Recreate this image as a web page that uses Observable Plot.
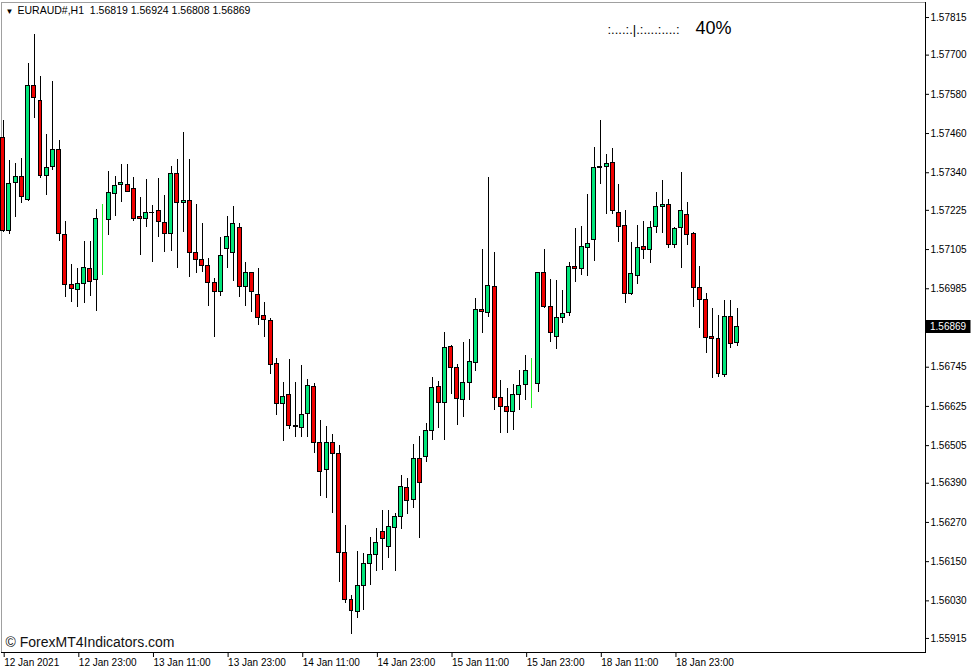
<!DOCTYPE html>
<html><head><meta charset="utf-8">
<script src="https://cdn.jsdelivr.net/npm/d3@7"></script>
<script src="https://cdn.jsdelivr.net/npm/@observablehq/plot@0.6"></script>
<style>
html,body{margin:0;padding:0;background:#fff;}
svg text{white-space:pre;}
</style></head><body><div id="chart"></div>
<script>
const symbol = "EURAUD#";
const timeframe = "H1";
const open = [1.57445,1.57163,1.57310,1.57328,1.57258,1.57604,1.57561,1.57331,1.57359,1.57411,
1.57151,1.56998,1.56980,1.57001,1.57044,1.57013,1.57197,1.57194,1.57276,1.57304,
1.57304,1.57289,1.57206,1.57197,1.57218,1.57224,1.57185,1.57154,1.57335,1.57246,
1.57255,1.57096,1.57074,1.57056,1.57004,1.56976,1.57108,1.57093,1.57172,1.56989,
1.57032,1.56967,1.56903,1.56885,1.56756,1.56631,1.56661,1.56563,1.56560,1.56603,
1.56683,1.56514,1.56429,1.56514,1.56478,1.56175,1.56034,1.55997,1.56077,1.56144,
1.56169,1.56242,1.56196,1.56254,1.56288,1.56374,1.56340,1.56465,1.56469,1.56551,
1.56683,1.56637,1.56808,1.56744,1.56646,1.56698,1.56759,1.56921,1.56912,1.56989,
1.56652,1.56622,1.56609,1.56661,1.56692,1.56701,1.56695,1.57032,1.56928,1.56836,
1.56897,1.56912,1.57053,1.57044,1.57111,1.57133,1.57356,1.57359,1.57371,1.57218,
1.57178,1.56970,1.57025,1.57114,1.57105,1.57175,1.57234,1.57240,1.57120,1.57172,
1.57212,1.57154,1.56986,1.56952,1.56836,1.56830,1.56720,1.56900,1.56819];
const high = [1.57500,1.57377,1.57368,1.57383,1.57674,1.57763,1.57634,1.57457,1.57619,1.57439,
1.57191,1.57059,1.57047,1.57129,1.57129,1.57227,1.57243,1.57344,1.57328,1.57365,
1.57365,1.57325,1.57264,1.57319,1.57240,1.57322,1.57270,1.57359,1.57380,1.57463,
1.57380,1.57243,1.57185,1.57077,1.57016,1.57142,1.57206,1.57237,1.57185,1.57065,
1.57035,1.57047,1.56943,1.56894,1.56771,1.56698,1.56768,1.56698,1.56750,1.56707,
1.56695,1.56582,1.56563,1.56539,1.56505,1.56260,1.56046,1.56181,1.56175,1.56224,
1.56251,1.56306,1.56306,1.56297,1.56413,1.56404,1.56508,1.56533,1.56573,1.56713,
1.56701,1.56851,1.56810,1.56753,1.56820,1.56830,1.56955,1.57105,1.57325,1.57096,
1.56704,1.56680,1.56692,1.56735,1.56781,1.56771,1.57035,1.57105,1.57013,1.57010,
1.56980,1.57065,1.57169,1.57175,1.57273,1.57417,1.57500,1.57396,1.57414,1.57304,
1.57224,1.57126,1.57178,1.57191,1.57191,1.57279,1.57316,1.57258,1.57172,1.57341,
1.57249,1.57157,1.57053,1.56970,1.56924,1.56903,1.56949,1.56949,1.56924];
const low = [1.57157,1.57151,1.57203,1.57246,1.57252,1.57506,1.57322,1.57270,1.57347,1.57129,
1.56958,1.56943,1.56928,1.56940,1.56961,1.56915,1.57025,1.57148,1.57206,1.57249,
1.57279,1.57191,1.57087,1.57172,1.57065,1.57142,1.57096,1.57099,1.57047,1.57157,
1.57019,1.57032,1.57035,1.56931,1.56836,1.56961,1.57047,1.57007,1.56958,1.56931,
1.56912,1.56872,1.56836,1.56723,1.56597,1.56517,1.56554,1.56530,1.56530,1.56530,
1.56481,1.56349,1.56343,1.56297,1.56086,1.56022,1.55927,1.55976,1.56000,1.56077,
1.56120,1.56123,1.56159,1.56120,1.56248,1.56294,1.56312,1.56221,1.56453,1.56521,
1.56557,1.56521,1.56661,1.56566,1.56591,1.56643,1.56732,1.56848,1.56897,1.56612,
1.56542,1.56542,1.56551,1.56612,1.56643,1.56618,1.56667,1.56924,1.56820,1.56799,
1.56879,1.56900,1.57004,1.57025,1.57022,1.57068,1.57304,1.57212,1.57212,1.57126,
1.56940,1.56964,1.56998,1.57074,1.57062,1.57154,1.57154,1.57108,1.57108,1.57047,
1.57117,1.56928,1.56863,1.56787,1.56710,1.56713,1.56713,1.56802,1.56808];
const close = [1.57163,1.57307,1.57328,1.57267,1.57604,1.57570,1.57331,1.57356,1.57411,1.57154,
1.56998,1.56983,1.57001,1.57050,1.57007,1.57197,1.57197,1.57279,1.57298,1.57310,
1.57282,1.57197,1.57200,1.57218,1.57216,1.57188,1.57154,1.57335,1.57246,1.57255,
1.57093,1.57074,1.57056,1.57004,1.56976,1.57084,1.57142,1.57182,1.56989,1.57032,
1.56976,1.56897,1.56888,1.56753,1.56631,1.56655,1.56566,1.56565,1.56600,1.56686,
1.56514,1.56423,1.56514,1.56478,1.56175,1.56034,1.56000,1.56077,1.56144,1.56169,
1.56208,1.56218,1.56257,1.56288,1.56377,1.56337,1.56465,1.56392,1.56551,1.56680,
1.56637,1.56805,1.56744,1.56649,1.56698,1.56762,1.56921,1.56915,1.56995,1.56652,
1.56622,1.56609,1.56661,1.56689,1.56732,1.56701,1.57032,1.56928,1.56851,1.56897,
1.56909,1.57053,1.57044,1.57114,1.57123,1.57356,1.57359,1.57368,1.57224,1.57175,
1.56970,1.57029,1.57111,1.57105,1.57172,1.57234,1.57240,1.57120,1.57169,1.57224,
1.57151,1.56986,1.56952,1.56833,1.56830,1.56723,1.56900,1.56817,1.56869];
const limeBars = [16, 85];
const yTicks = [1.57815,1.57700,1.57580,1.57460,1.57340,1.57225,1.57105,1.56985,
                1.56745,1.56625,1.56505,1.56390,1.56270,1.56150,1.56030,1.55915];
const xTickIndex = [0,12,24,36,48,60,72,84,96,108];
const xTickLabels = ["12 Jan 2021","12 Jan 23:00","13 Jan 11:00","13 Jan 23:00","14 Jan 11:00",
                     "14 Jan 23:00","15 Jan 11:00","15 Jan 23:00","18 Jan 11:00","18 Jan 23:00"];
const indicatorDots = ":....:.|.:....:....:";
const indicatorValue = "40%";
const watermark = "\u00A9 ForexMT4Indicators.com";

const candles = open.map((o, i) => ({i, open: o, high: high[i], low: low[i], close: close[i], lime: limeBars.includes(i)}));
const upColor = "#00e57a", downColor = "#f00000", limeColor = "#22ee22";
const fmt = v => v.toFixed(5);
const last = open.length - 1;
const header = `${symbol},${timeframe}  ${fmt(open[last])} ${fmt(high[last])} ${fmt(low[last])} ${fmt(close[last])}`;

const chart = Plot.plot({
  width: 977, height: 672,
  marginTop: 2, marginRight: 52, marginBottom: 20, marginLeft: 1,
  style: {fontFamily: "'Liberation Sans', Arial, sans-serif", fontSize: "10px", color: "#000", background: "#fff", overflow: "visible"},
  x: {type: "linear", domain: [-0.27, 148.28], axis: null},
  y: {domain: [1.55872, 1.57861], axis: null},
  marks: [
    Plot.frame({stroke: "#a0a0a0"}),
    Plot.frame({anchor: "right", stroke: "#000"}),
    Plot.frame({anchor: "bottom", stroke: "#000"}),
    Plot.ruleX(candles, {x: "i", y1: "low", y2: "high", stroke: d => d.lime ? limeColor : "#000", strokeWidth: 1, shapeRendering: "crispEdges"}),
    Plot.rect(candles, {x1: d => d.i - 0.32, x2: d => d.i + 0.32, y1: "open", y2: "close",
      fill: d => d.lime ? limeColor : (d.close >= d.open ? upColor : downColor),
      stroke: d => d.lime ? limeColor : "#000", strokeWidth: 1, shapeRendering: "crispEdges"}),
    Plot.axisY(yTicks, {anchor: "right", tickSize: 3, tickPadding: 2, tickFormat: fmt, label: null, fontSize: 10}),
    Plot.axisX(xTickIndex, {anchor: "bottom", tickSize: 5, tickPadding: 1, label: null, textAnchor: "start", dx: 1,
      tickFormat: d => xTickLabels[xTickIndex.indexOf(d)], fontSize: 10}),
    Plot.text(["\u25BC"], {frameAnchor: "top-left", dx: 4, dy: 6, fontSize: 8, textAnchor: "start"}),
    Plot.text([header], {frameAnchor: "top-left", dx: 16, dy: 4, fontSize: 10.5, textAnchor: "start"}),
    Plot.text([indicatorDots], {frameAnchor: "top-left", dx: 606, dy: 22, fontSize: 13, textAnchor: "start"}),
    Plot.text([indicatorValue], {frameAnchor: "top-left", dx: 694, dy: 19, fontSize: 18, textAnchor: "start"}),
    Plot.text([watermark], {frameAnchor: "bottom-left", dx: 4, dy: -6, fontSize: 14, textAnchor: "start", lineAnchor: "bottom", fill: "#111"})
  ]
});
document.getElementById("chart").append(chart);

// current price marker on the right price scale, positioned through the chart's own y scale
const ys = chart.scale("y");
const yOf = v => ys.range[0] + (v - ys.domain[0]) / (ys.domain[1] - ys.domain[0]) * (ys.range[1] - ys.range[0]);
const xs = chart.scale("x");
const frameRight = Math.max(xs.range[0], xs.range[1]);
const py = yOf(close[last]);
const svg = d3.select(chart);
const gp = svg.append("g").attr("aria-label", "current-price");
gp.append("rect").attr("x", frameRight + 0.5).attr("y", Math.round(py) - 6).attr("width", 45).attr("height", 13).attr("fill", "#000");
gp.append("text").attr("x", frameRight + 5).attr("y", Math.round(py) + 0.5).attr("dy", "0.32em")
  .attr("text-anchor", "start").attr("fill", "#fff").attr("font-size", 10).text(fmt(close[last]));
</script></body></html>
